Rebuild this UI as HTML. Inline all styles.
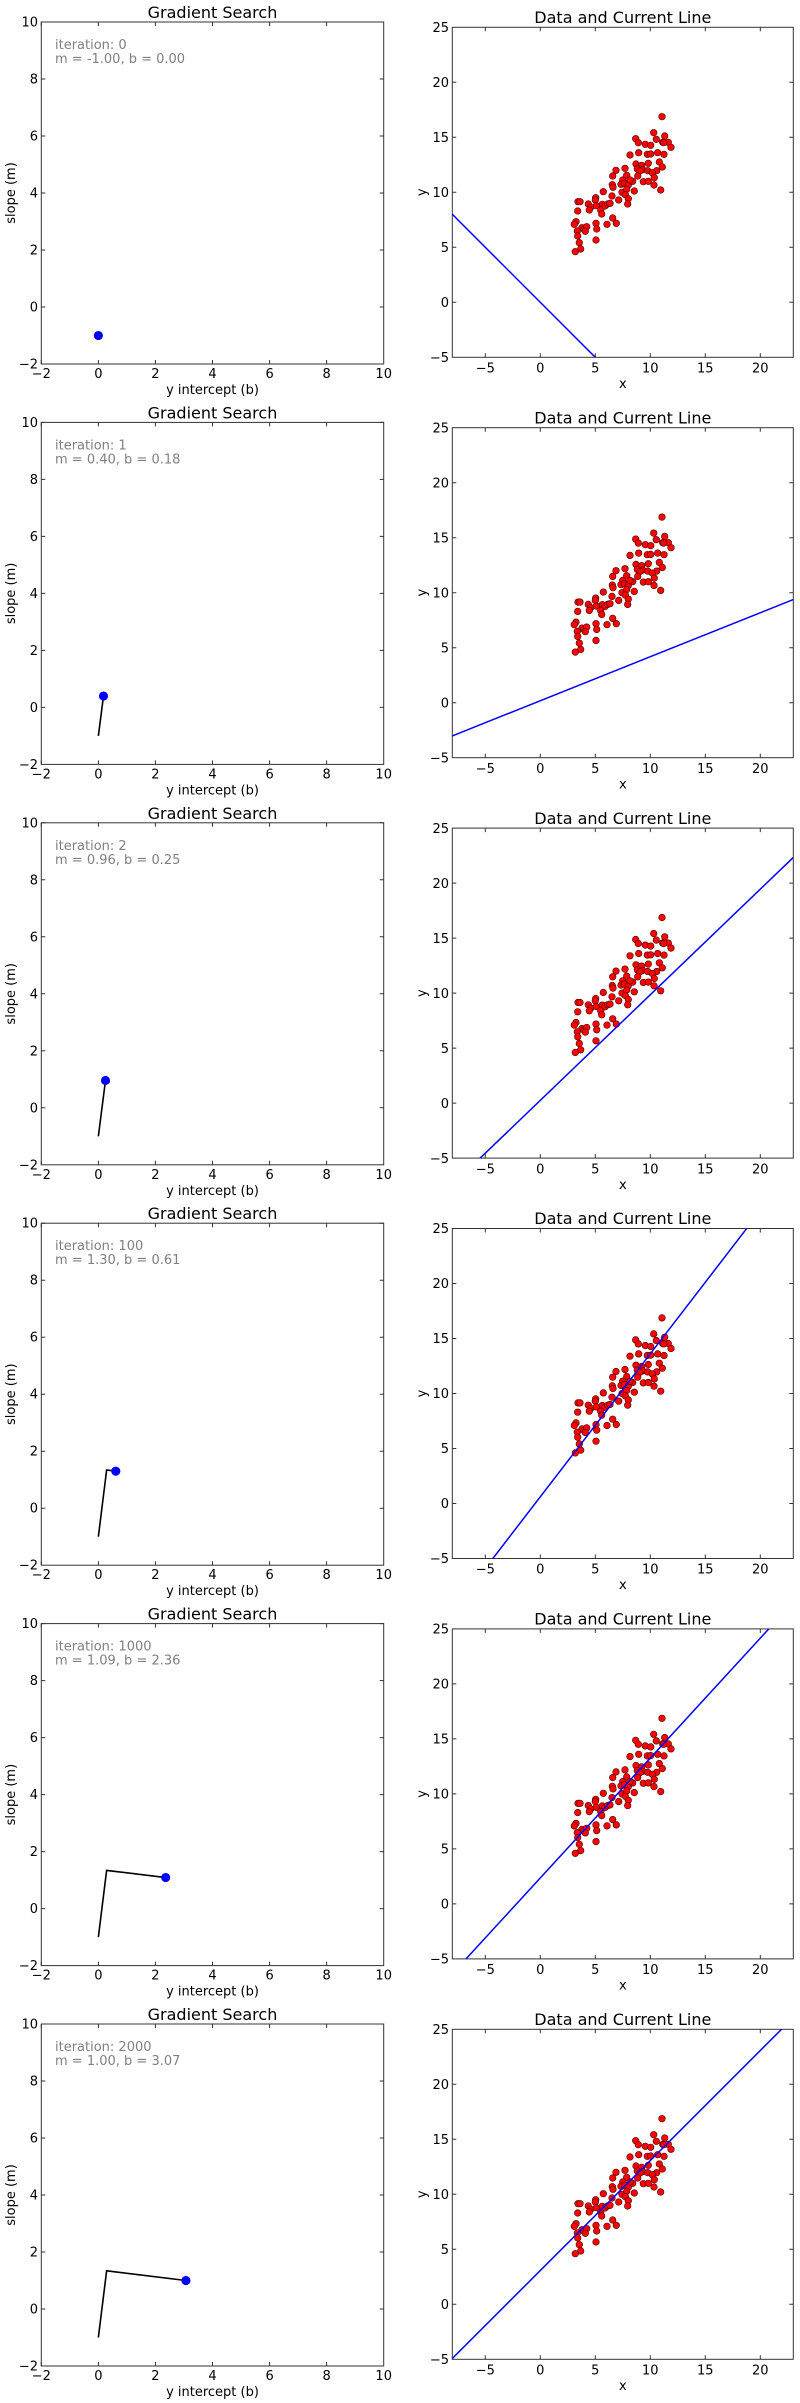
<!DOCTYPE html>
<html><head><meta charset="utf-8"><style>
html,body{margin:0;padding:0;background:#fff;}
svg{display:block;}
text{font-family:"DejaVu Sans","Liberation Sans",sans-serif;fill:#000;}
.t{font-size:16px;text-anchor:middle;}
.k{font-size:13px;}
.ky{font-size:13px;text-anchor:end;}
.kx{font-size:13px;text-anchor:middle;}
.g{font-size:13px;fill:#808080;}
.f{fill:none;stroke:#333;stroke-width:1;}
.tk{stroke:#333;stroke-width:1;}
</style></head><body>
<svg width="800" height="2403" viewBox="0 0 800 2403" xmlns="http://www.w3.org/2000/svg">
<defs>
<clipPath id="cp" clipPathUnits="userSpaceOnUse"><rect x="-8" y="-5" width="31" height="30"/></clipPath>
<g id="lt">
<rect class="f" x="41.3" y="22" width="342.4" height="342"/>
<path class="tk" d="M41.3,364v-4M98.4,364v-4M155.4,364v-4M212.5,364v-4M269.6,364v-4M326.6,364v-4M41.3,22v4M98.4,22v4M155.4,22v4M212.5,22v4M269.6,22v4M326.6,22v4
M41.3,22h4M41.3,79h4M41.3,136h4M41.3,193h4M41.3,250h4M41.3,307h4M383.7,22h-4M383.7,79h-4M383.7,136h-4M383.7,193h-4M383.7,250h-4M383.7,307h-4"/>
<text class="ky" x="38" y="26.5">10</text><text class="ky" x="38" y="83.5">8</text><text class="ky" x="38" y="140.5">6</text><text class="ky" x="38" y="197.5">4</text><text class="ky" x="38" y="254.5">2</text><text class="ky" x="38" y="311.5">0</text><text class="ky" x="38" y="368.5">−2</text>
<text class="kx" x="41.3" y="378">−2</text><text class="kx" x="98.4" y="378">0</text><text class="kx" x="155.4" y="378">2</text><text class="kx" x="212.5" y="378">4</text><text class="kx" x="269.6" y="378">6</text><text class="kx" x="326.6" y="378">8</text><text class="kx" x="383.7" y="378">10</text>
<text class="kx" x="212.5" y="394">y intercept (b)</text>
<text class="t" x="212.5" y="18">Gradient Search</text>
<text class="kx" transform="translate(15,193) rotate(-90)">slope (m)</text>
</g>
<g id="rt">
<rect class="f" x="452.3" y="27.3" width="341" height="330"/>
<path class="tk" d="M485.3,357.3v-4M540.3,357.3v-4M595.3,357.3v-4M650.3,357.3v-4M705.3,357.3v-4M760.3,357.3v-4M485.3,27.3v4M540.3,27.3v4M595.3,27.3v4M650.3,27.3v4M705.3,27.3v4M760.3,27.3v4
M452.3,82.3h4M452.3,137.3h4M452.3,192.3h4M452.3,247.3h4M452.3,302.3h4M793.3,82.3h-4M793.3,137.3h-4M793.3,192.3h-4M793.3,247.3h-4M793.3,302.3h-4"/>
<text class="ky" x="449" y="32">25</text><text class="ky" x="449" y="87">20</text><text class="ky" x="449" y="142">15</text><text class="ky" x="449" y="197">10</text><text class="ky" x="449" y="252">5</text><text class="ky" x="449" y="307">0</text><text class="ky" x="449" y="362">−5</text>
<text class="kx" x="485.3" y="372.5">−5</text><text class="kx" x="540.3" y="372.5">0</text><text class="kx" x="595.3" y="372.5">5</text><text class="kx" x="650.3" y="372.5">10</text><text class="kx" x="705.3" y="372.5">15</text><text class="kx" x="760.3" y="372.5">20</text>
<text class="kx" x="622.8" y="388">x</text>
<text class="t" x="622.8" y="23">Data and Current Line</text>
<text class="kx" transform="translate(426,192.3) rotate(-90)">y</text>
<g fill="#f00" stroke="#400" stroke-width="0.6">
<circle cx="662.0" cy="116.7" r="3.3"/><circle cx="653.7" cy="132.7" r="3.3"/><circle cx="664.7" cy="136.0" r="3.3"/><circle cx="635.7" cy="138.7" r="3.3"/><circle cx="638.3" cy="142.7" r="3.3"/><circle cx="645.3" cy="144.3" r="3.3"/><circle cx="650.7" cy="145.3" r="3.3"/><circle cx="656.3" cy="139.3" r="3.3"/><circle cx="662.7" cy="142.3" r="3.3"/><circle cx="668.3" cy="142.3" r="3.3"/><circle cx="671.0" cy="147.3" r="3.3"/><circle cx="663.7" cy="142.7" r="3.3"/><circle cx="630.0" cy="155.0" r="3.3"/><circle cx="638.7" cy="152.7" r="3.3"/><circle cx="647.3" cy="154.3" r="3.3"/><circle cx="650.7" cy="154.0" r="3.3"/><circle cx="657.7" cy="152.7" r="3.3"/><circle cx="664.0" cy="154.3" r="3.3"/><circle cx="659.3" cy="162.0" r="3.3"/><circle cx="662.3" cy="167.0" r="3.3"/><circle cx="648.3" cy="163.3" r="3.3"/><circle cx="636.0" cy="164.0" r="3.3"/><circle cx="641.7" cy="165.3" r="3.3"/><circle cx="637.3" cy="169.0" r="3.3"/><circle cx="642.7" cy="169.7" r="3.3"/><circle cx="640.0" cy="171.0" r="3.3"/><circle cx="647.7" cy="170.7" r="3.3"/><circle cx="656.7" cy="170.7" r="3.3"/><circle cx="652.3" cy="172.7" r="3.3"/><circle cx="625.0" cy="168.3" r="3.3"/><circle cx="616.0" cy="170.3" r="3.3"/><circle cx="612.7" cy="176.0" r="3.3"/><circle cx="626.7" cy="175.3" r="3.3"/><circle cx="622.7" cy="180.0" r="3.3"/><circle cx="621.0" cy="184.3" r="3.3"/><circle cx="624.3" cy="183.3" r="3.3"/><circle cx="628.3" cy="185.0" r="3.3"/><circle cx="632.7" cy="181.3" r="3.3"/><circle cx="630.0" cy="180.0" r="3.3"/><circle cx="637.7" cy="176.0" r="3.3"/><circle cx="643.3" cy="181.7" r="3.3"/><circle cx="648.3" cy="181.3" r="3.3"/><circle cx="654.3" cy="177.7" r="3.3"/><circle cx="654.0" cy="185.0" r="3.3"/><circle cx="660.7" cy="190.0" r="3.3"/><circle cx="634.3" cy="191.0" r="3.3"/><circle cx="612.3" cy="184.7" r="3.3"/><circle cx="613.0" cy="187.3" r="3.3"/><circle cx="622.0" cy="192.3" r="3.3"/><circle cx="626.7" cy="189.3" r="3.3"/><circle cx="625.3" cy="194.7" r="3.3"/><circle cx="628.3" cy="198.7" r="3.3"/><circle cx="627.7" cy="204.0" r="3.3"/><circle cx="618.7" cy="200.0" r="3.3"/><circle cx="612.0" cy="196.0" r="3.3"/><circle cx="603.3" cy="191.7" r="3.3"/><circle cx="595.7" cy="197.7" r="3.3"/><circle cx="595.3" cy="200.0" r="3.3"/><circle cx="588.3" cy="204.0" r="3.3"/><circle cx="590.7" cy="207.3" r="3.3"/><circle cx="596.3" cy="205.7" r="3.3"/><circle cx="602.3" cy="204.3" r="3.3"/><circle cx="605.0" cy="206.0" r="3.3"/><circle cx="607.7" cy="204.0" r="3.3"/><circle cx="610.0" cy="203.3" r="3.3"/><circle cx="600.7" cy="210.0" r="3.3"/><circle cx="601.7" cy="214.0" r="3.3"/><circle cx="578.0" cy="201.7" r="3.3"/><circle cx="580.0" cy="201.7" r="3.3"/><circle cx="577.7" cy="211.0" r="3.3"/><circle cx="589.3" cy="210.0" r="3.3"/><circle cx="612.7" cy="218.0" r="3.3"/><circle cx="616.3" cy="223.3" r="3.3"/><circle cx="607.0" cy="224.3" r="3.3"/><circle cx="596.0" cy="223.3" r="3.3"/><circle cx="596.7" cy="229.0" r="3.3"/><circle cx="576.0" cy="221.7" r="3.3"/><circle cx="574.3" cy="224.3" r="3.3"/><circle cx="582.0" cy="227.7" r="3.3"/><circle cx="584.0" cy="229.3" r="3.3"/><circle cx="586.7" cy="226.7" r="3.3"/><circle cx="585.3" cy="231.3" r="3.3"/><circle cx="577.3" cy="231.0" r="3.3"/><circle cx="577.7" cy="236.0" r="3.3"/><circle cx="579.3" cy="242.7" r="3.3"/><circle cx="596.0" cy="240.0" r="3.3"/><circle cx="580.7" cy="249.0" r="3.3"/><circle cx="575.3" cy="251.7" r="3.3"/>
</g>
</g>
</defs>

<g transform="translate(0,0)">
<use href="#lt"/><use href="#rt"/>
<text class="g" x="55" y="49">iteration: 0</text><text class="g" x="55" y="63">m = -1.00, b = 0.00</text>
<g transform="translate(41.3,22) scale(28.53,-28.5) translate(2,-10)">
<circle cx="0" cy="-1" r="0.16" fill="#00f"/>
</g>
<g transform="translate(452.3,27.3) scale(11,-11) translate(8,-25)">
<line x1="-8" y1="8" x2="23" y2="-23" stroke="#00f" stroke-width="1.5" vector-effect="non-scaling-stroke" clip-path="url(#cp)"/>
</g>
</g>

<g transform="translate(0,400.4)">
<use href="#lt"/><use href="#rt"/>
<text class="g" x="55" y="49">iteration: 1</text><text class="g" x="55" y="63">m = 0.40, b = 0.18</text>
<g transform="translate(41.3,22) scale(28.53,-28.5) translate(2,-10)">
<polyline points="0,-1 0.18,0.40" fill="none" stroke="#000" stroke-width="1.6" vector-effect="non-scaling-stroke"/>
<circle cx="0.18" cy="0.40" r="0.16" fill="#00f"/>
</g>
<g transform="translate(452.3,27.3) scale(11,-11) translate(8,-25)">
<line x1="-8" y1="-3.02" x2="23" y2="9.38" stroke="#00f" stroke-width="1.5" vector-effect="non-scaling-stroke" clip-path="url(#cp)"/>
</g>
</g>

<g transform="translate(0,800.8)">
<use href="#lt"/><use href="#rt"/>
<text class="g" x="55" y="49">iteration: 2</text><text class="g" x="55" y="63">m = 0.96, b = 0.25</text>
<g transform="translate(41.3,22) scale(28.53,-28.5) translate(2,-10)">
<polyline points="0,-1 0.25,0.96" fill="none" stroke="#000" stroke-width="1.6" vector-effect="non-scaling-stroke"/>
<circle cx="0.25" cy="0.96" r="0.16" fill="#00f"/>
</g>
<g transform="translate(452.3,27.3) scale(11,-11) translate(8,-25)">
<line x1="-8" y1="-7.43" x2="23" y2="22.33" stroke="#00f" stroke-width="1.5" vector-effect="non-scaling-stroke" clip-path="url(#cp)"/>
</g>
</g>

<g transform="translate(0,1201.2)">
<use href="#lt"/><use href="#rt"/>
<text class="g" x="55" y="49">iteration: 100</text><text class="g" x="55" y="63">m = 1.30, b = 0.61</text>
<g transform="translate(41.3,22) scale(28.53,-28.5) translate(2,-10)">
<polyline points="0,-1 0.29,1.34 0.61,1.30" fill="none" stroke="#000" stroke-width="1.6" vector-effect="non-scaling-stroke"/>
<circle cx="0.61" cy="1.30" r="0.16" fill="#00f"/>
</g>
<g transform="translate(452.3,27.3) scale(11,-11) translate(8,-25)">
<line x1="-8" y1="-9.79" x2="23" y2="30.51" stroke="#00f" stroke-width="1.5" vector-effect="non-scaling-stroke" clip-path="url(#cp)"/>
</g>
</g>

<g transform="translate(0,1601.6)">
<use href="#lt"/><use href="#rt"/>
<text class="g" x="55" y="49">iteration: 1000</text><text class="g" x="55" y="63">m = 1.09, b = 2.36</text>
<g transform="translate(41.3,22) scale(28.53,-28.5) translate(2,-10)">
<polyline points="0,-1 0.29,1.34 2.36,1.09" fill="none" stroke="#000" stroke-width="1.6" vector-effect="non-scaling-stroke"/>
<circle cx="2.36" cy="1.09" r="0.16" fill="#00f"/>
</g>
<g transform="translate(452.3,27.3) scale(11,-11) translate(8,-25)">
<line x1="-8" y1="-6.36" x2="23" y2="27.43" stroke="#00f" stroke-width="1.5" vector-effect="non-scaling-stroke" clip-path="url(#cp)"/>
</g>
</g>

<g transform="translate(0,2002)">
<use href="#lt"/><use href="#rt"/>
<text class="g" x="55" y="49">iteration: 2000</text><text class="g" x="55" y="63">m = 1.00, b = 3.07</text>
<g transform="translate(41.3,22) scale(28.53,-28.5) translate(2,-10)">
<polyline points="0,-1 0.29,1.34 3.07,1.00" fill="none" stroke="#000" stroke-width="1.6" vector-effect="non-scaling-stroke"/>
<circle cx="3.07" cy="1.00" r="0.16" fill="#00f"/>
</g>
<g transform="translate(452.3,27.3) scale(11,-11) translate(8,-25)">
<line x1="-8" y1="-4.93" x2="23" y2="26.07" stroke="#00f" stroke-width="1.5" vector-effect="non-scaling-stroke" clip-path="url(#cp)"/>
</g>
</g>
</svg>
</body></html>
